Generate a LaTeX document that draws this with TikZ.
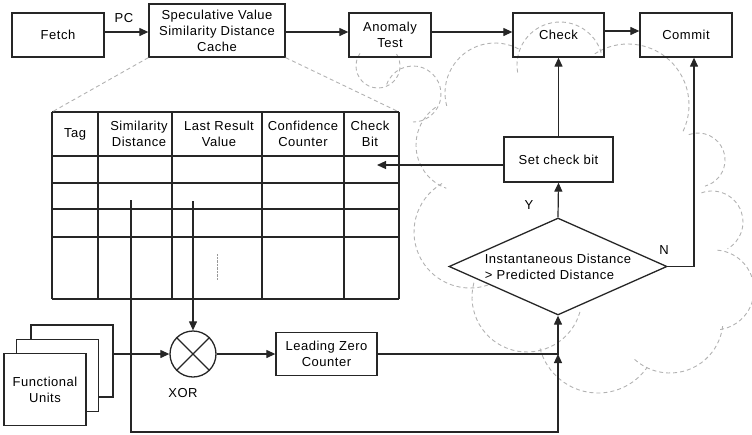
\documentclass[tikz,border=0pt]{standalone}
\usepackage{fontspec}
\setmainfont[LetterSpace=4]{Liberation Sans}
\usepackage{tikz}
\usetikzlibrary{calc}
\usetikzlibrary{shapes.geometric}
\usetikzlibrary{arrows.meta}

\tikzset{
  box/.style={draw=black!85, line width=1.3pt, fill=white, rectangle, align=center, inner sep=0pt},
  arr/.style={-{Triangle[length=9pt,width=8pt]}, line width=1.2pt, draw=black!85},
  wire/.style={line width=1.2pt, draw=black!85},
  cloudline/.style={draw=black!30, line width=0.9pt, dash pattern=on 4pt off 3pt}
}

\begin{document}
\begin{tikzpicture}[x=1pt,y=-1pt, every node/.style={font=\fontsize{13}{16}\selectfont}]
  \useasboundingbox (0,0) rectangle (752,434);

  % cloud
  \foreach \cx/\cy/\r/\a/\b in {378/66/22/215/-40, 413/94/28/200/450, 495/93/50/165/300,
      560/65/43/170/345, 628/105/61/237/387, 698/160/27/250/435, 712/222/31/250/420,
      714/290/40/275/445, 670/320/53/132/5, 598/333/60/165/35, 527/297/55/195/15,
      470/232/56/240/70, 462/145/46/235/110}
    \draw[cloudline] (\cx,\cy) ++(\a:\r) arc[start angle=\a, end angle=\b, radius=\r];

  \node[box, minimum width=92pt, minimum height=44pt] (fetch) at (58,35) {Fetch};
  \node[box, fill=none, minimum width=136pt, minimum height=53pt] (spec) at (217,30.5) {Speculative Value\\Similarity Distance\\Cache};
  \node[box, fill=none, minimum width=82pt, minimum height=44pt] (anom) at (390,35) {Anomaly\\Test};
  \node[box, fill=none, minimum width=91pt, minimum height=44pt] (check) at (558.5,35) {Check};
  \node[box, fill=none, minimum width=92pt, minimum height=44pt] (commit) at (686,35) {Commit};
  \node[box, fill=none, minimum width=109pt, minimum height=45pt] (setcb) at (558.5,159.5) {Set check bit};
  \node[draw=black!85, line width=1.3pt, diamond, shape aspect=2.25, inner sep=0pt,
        minimum width=218pt, minimum height=97pt, align=left] (test) at (558,266.5)
        {Instantaneous Distance\\> Predicted Distance};

  % table
  \coordinate (tl) at (52,112);
  \coordinate (tr) at (399,112);
  \foreach \x in {52,98,172,262,344,399}
    \draw[wire] (\x,112) -- (\x,299);
  \foreach \y in {112,156,183,209,237,299}
    \draw[wire] (52,\y) -- (399,\y);
  \node (tag) at (75,134) {Tag};
  \node[align=center] (simdist) at (139,134) {Similarity\\Distance};
  \node[align=center] (lastval) at (219,134) {Last Result\\Value};
  \node[align=center] (confcnt) at (303,134) {Confidence\\Counter};
  \node[align=center] (chkbit) at (370,134) {Check\\Bit};
  \draw[black!40, densely dotted] (217,254) -- (217,280);

  \draw[cloudline] (spec.south west) -- (tl);
  \draw[cloudline] (spec.south east) -- (tr);

  % lower part
  \node[box, minimum width=82pt, minimum height=72pt] (fu3) at (72,361) {};
  \node[box, minimum width=82pt, minimum height=72pt] (fu2) at (57.5,375.5) {};
  \node[box, minimum width=82pt, minimum height=72pt] (fu1) at (45,389.5) {Functional\\Units};
  \node[draw=black!85, line width=1.3pt, circle, minimum size=46pt, inner sep=0pt] (xor) at (193,354) {};
  \draw[wire] (xor.north west) -- (xor.south east);
  \draw[wire] (xor.north east) -- (xor.south west);
  \node (xorlbl) at (183,393) {XOR};
  \node[box, fill=none, minimum width=101pt, minimum height=43pt] (lzc) at (326.5,354) {Leading Zero\\Counter};

  \coordinate (cbin) at (377,165);
  \coordinate (sdtap) at (131,200);
  \coordinate (sdlow) at (131,432);
  \coordinate (lrtap) at (193,201);
  \coordinate (join) at (test.south |- lzc.east);
  \coordinate (nturn) at (694,266.5);

  \draw[arr] (fetch.east |- 0,32) -- (spec.west |- 0,32);
  \node (pc) at (124,18) {PC};
  \draw[arr] (spec.east |- 0,32) -- (anom.west |- 0,32);
  \draw[arr] (anom.east |- 0,32) -- (check.west |- 0,32);
  \draw[arr] (check.east |- 0,31) -- (commit.west |- 0,31);
  \draw[arr] (setcb.north) -- (check.south);
  \draw[arr] (test.north) -- (setcb.south);
  \node (yes) at (529,205) {Y};
  \draw[arr] (test.east) -- (nturn) -- (nturn |- commit.south);
  \node (no) at (664,250) {N};
  \draw[arr] (setcb.west |- cbin) -- (cbin);
  \draw[arr] (lrtap) -- (xor.north);
  \draw[arr] (fu3.east |- xor) -- (xor.west);
  \draw[arr] (xor.east) -- (lzc.west);
  \draw[arr] (lzc.east) -- (join) -- (test.south);
  \draw[arr] (sdtap) -- (sdlow) -- (sdlow -| join) -- (join);
\end{tikzpicture}
\end{document}
